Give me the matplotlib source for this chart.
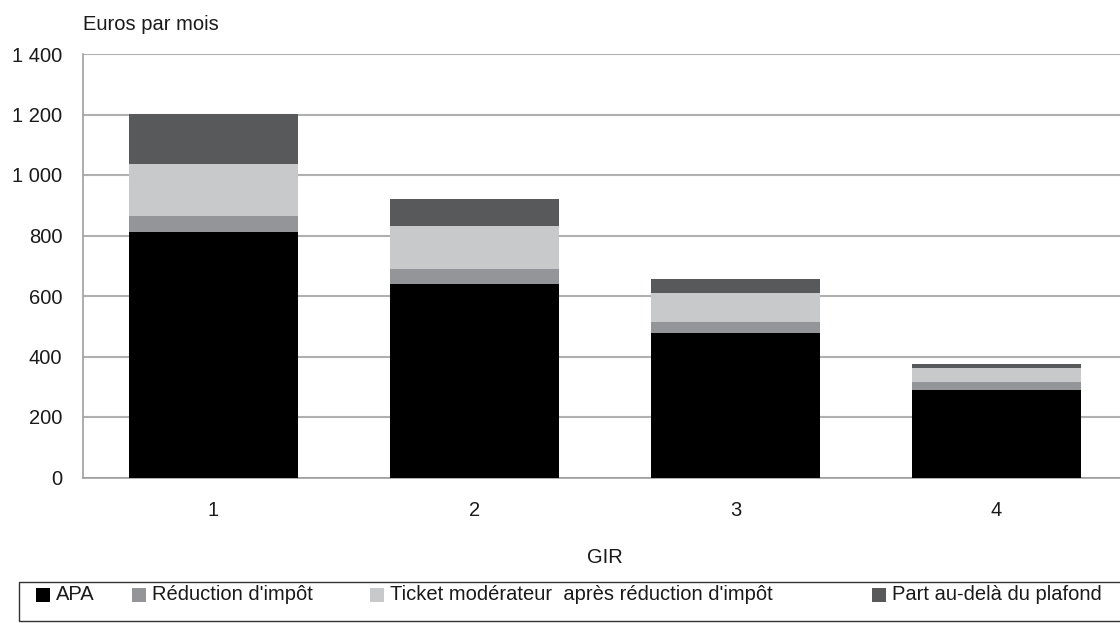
import matplotlib.pyplot as plt
import matplotlib.ticker as mticker
from matplotlib.patches import Rectangle
import numpy as np

plt.rcParams['font.family'] = ['Liberation Sans', 'DejaVu Sans']

# GIR categories and stacked components (euros per month)
gir = ["1", "2", "3", "4"]
apa = [812, 641, 479, 289]
reduction_impot = [52, 48, 35, 27]
ticket_moderateur = [172, 142, 96, 46]
part_plafond = [166, 90, 46, 13]

series_names = ["APA", "Réduction d'impôt",
                "Ticket modérateur  après réduction d'impôt",
                "Part au-delà du plafond"]
series_colors = ["#000000", "#939598", "#c8c9cb", "#58595b"]

W, H = 1120, 623
text_color = '#1a1a1a'
fs = 14.5

fig = plt.figure(figsize=(W / 100, H / 100), dpi=100)
ax = fig.add_axes([83 / W, 1 - 477.5 / H, 1044 / W, 423.5 / H])

x = np.arange(len(gir))
bottom = np.zeros(len(gir))
for values, name, color in zip([apa, reduction_impot, ticket_moderateur, part_plafond],
                               series_names, series_colors):
    ax.bar(x, values, width=0.647, bottom=bottom, color=color, label=name, zorder=3)
    bottom += np.array(values)

ax.set_xlim(-0.5, len(gir) - 0.5)
ax.set_ylim(0, 1400)
ax.set_yticks(np.arange(0, 1401, 200))
ax.yaxis.set_major_formatter(mticker.FuncFormatter(lambda v, p: f"{int(v):,}".replace(",", " ")))
ax.set_xticks(x)
ax.set_xticklabels(gir)
ax.tick_params(axis='both', length=0, labelsize=fs, colors=text_color)
ax.tick_params(axis='y', pad=15)
ax.tick_params(axis='x', pad=17)
ax.set_xlabel("GIR", fontsize=fs, labelpad=20, color=text_color)

ax.grid(axis='y', color='#b0b0b0', linewidth=1.5, zorder=0)
for side in ['top', 'right']:
    ax.spines[side].set_visible(False)
for side in ['left', 'bottom']:
    ax.spines[side].set_color('#a0a0a0')
    ax.spines[side].set_linewidth(1.2)

fig.text(83 / W, 1 - 25 / H, "Euros par mois", fontsize=fs, va='center', ha='left',
         color=text_color)

# legend drawn like the spreadsheet one: framed strip at the bottom
fig.add_artist(Rectangle((19 / W, 1 - 621 / H), 1.1, 39 / H, transform=fig.transFigure,
                         facecolor='none', edgecolor='#333333', linewidth=1.0))
legend_x = [36, 132, 370, 872]
legend_y = 595
sq = 14
for lx, name, color in zip(legend_x, series_names, series_colors):
    fig.add_artist(Rectangle((lx / W, 1 - (legend_y + sq / 2) / H), sq / W, sq / H,
                             transform=fig.transFigure, facecolor=color, edgecolor='none'))
    fig.text((lx + sq + 6) / W, 1 - legend_y / H, name, fontsize=fs, va='center',
             ha='left', color=text_color)

fig.savefig("out.png", dpi=100)
